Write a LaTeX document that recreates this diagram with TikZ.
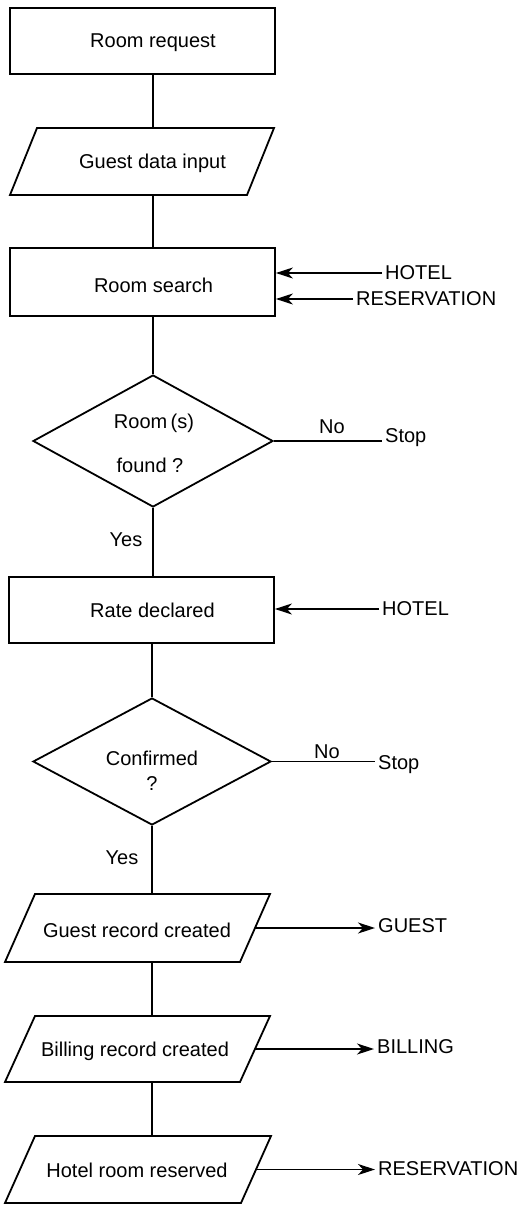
\documentclass[tikz,border=0pt]{standalone}
\usepackage{fontspec}
\setmainfont{Liberation Sans}
\usetikzlibrary{shapes.geometric,arrows.meta}
\begin{document}
\begin{tikzpicture}[x=1pt,y=-1pt,
  box/.style={draw, line width=1.8pt, inner sep=0pt, line join=miter},
  frame/.style={inner sep=0pt, outer sep=0pt},
  txt/.style={font=\fontsize{20}{24}\selectfont, inner sep=0pt},
  lbl/.style={font=\fontsize{20}{24}\selectfont, inner sep=3pt},
  conn/.style={line width=1.5pt},
  arr/.style={line width=1.4pt, -{Stealth[length=17pt,width=11pt,inset=5pt]}},
  dia/.style={draw, diamond, line width=1.8pt, inner sep=0pt, aspect=1.8}]

\useasboundingbox (0,0) rectangle (531,1205);
\fill[white] (0,0) rectangle (531,1205);
\coordinate (spine) at (153,0);
\coordinate (spineb) at (152,0);

% Room request
\node[box, minimum width=265pt, minimum height=66pt] (rr) at (142.5,41) {};
\node[txt] (rrt) at (153,43) {Room request};

% Guest data input
\node[frame, minimum width=264pt, minimum height=67pt] (gd) at (142,161.5) {};
\draw[box] ([xshift=27pt]gd.north west) -- (gd.north east) -- ([xshift=-27pt]gd.south east) -- (gd.south west) -- cycle;
\node[txt] (gdt) at (152.5,163) {Guest data input};

% Room search
\node[box, minimum width=265pt, minimum height=68pt] (rs) at (142.5,282) {};
\node[txt] (rst) at (153.5,285) {Room search};
\node[lbl, anchor=west] (hotel1) at (382,273) {HOTEL};
\node[lbl, anchor=west] (res1) at (353,299) {RESERVATION};

% Decision 1
\node[dia, minimum width=240pt, minimum height=132pt] (d1) at (153,441) {};
\node[txt] (d1a) at (154,423) {Room\,(s)};
\node[txt] (d1b) at (150,465) {found ?};
\node[txt] (no1) at (332,427) {No};
\node[lbl, anchor=west] (stop1) at (382,438) {Stop};
\node[txt] (yes1) at (126,540) {Yes};

% Rate declared
\node[box, minimum width=265pt, minimum height=66pt] (rd) at (141.5,610) {};
\node[txt] (rdt) at (152.5,610) {Rate declared};
\node[lbl, anchor=west] (hotel2) at (379,609) {HOTEL};

% Decision 2
\node[dia, minimum width=238pt, minimum height=127pt] (d2) at (152,761.5) {};
\node[txt] (d2a) at (152,758) {Confirmed};
\node[txt] (d2b) at (152,784) {?};
\node[txt] (no2) at (327,752) {No};
\node[lbl, anchor=west] (stop2) at (375,765) {Stop};
\node[txt] (yes2) at (122,858) {Yes};

% Guest record created
\node[frame, minimum width=265pt, minimum height=68pt] (gr) at (137.5,928) {};
\draw[box] ([xshift=30pt]gr.north west) -- (gr.north east) -- ([xshift=-30pt]gr.south east) -- (gr.south west) -- cycle;
\node[txt] (grt) at (137,930) {Guest record created};
\node[lbl, anchor=west] (guest) at (375,926) {GUEST};

% Billing record created
\node[frame, minimum width=265pt, minimum height=66pt] (br) at (137.5,1049) {};
\draw[box] ([xshift=30pt]br.north west) -- (br.north east) -- ([xshift=-30pt]br.south east) -- (br.south west) -- cycle;
\node[txt] (brt) at (135,1051) {Billing record created};
\node[lbl, anchor=west] (billing) at (374,1047) {BILLING};

% Hotel room reserved
\node[frame, minimum width=266pt, minimum height=67pt] (hr) at (138,1169.5) {};
\draw[box] ([xshift=30pt]hr.north west) -- (hr.north east) -- ([xshift=-30pt]hr.south east) -- (hr.south west) -- cycle;
\node[txt] (hrt) at (137,1170) {Hotel room reserved};
\node[lbl, anchor=west] (res2) at (375,1169) {RESERVATION};

% Connectors
\draw[conn] (rr.south -| spine) -- (gd.north -| spine);
\draw[conn] (gd.south -| spine) -- (rs.north -| spine);
\draw[conn] (rs.south -| spine) -- (d1.north);
\draw[conn] (d1.south) -- (rd.north -| d1.south);
\draw[conn] (rd.south -| d2.north) -- (d2.north);
\draw[conn] (d2.south) -- (gr.north -| d2.south);
\draw[conn] (gr.south -| spineb) -- (br.north -| spineb);
\draw[conn] (br.south -| spineb) -- (hr.north -| spineb);

\draw[conn] (d1.east) -- (d1.east -| stop1.west);
\draw[conn] (d2.east) -- (d2.east -| stop2.west);

\draw[arr] (hotel1.west) -- (hotel1.west -| rs.east);
\draw[arr] (res1.west) -- (res1.west -| rs.east);
\draw[arr] (hotel2.west) -- (hotel2.west -| rd.east);

\coordinate (gro) at ([xshift=-15pt]gr.east);
\coordinate (bro) at ([xshift=-15pt]br.east);
\coordinate (hro) at ([xshift=-15pt]hr.east);
\draw[arr] (gro) -- (gro -| guest.west);
\draw[arr] (bro) -- (bro -| billing.west);
\draw[arr] (hro) -- (hro -| res2.west);
\end{tikzpicture}
\end{document}
